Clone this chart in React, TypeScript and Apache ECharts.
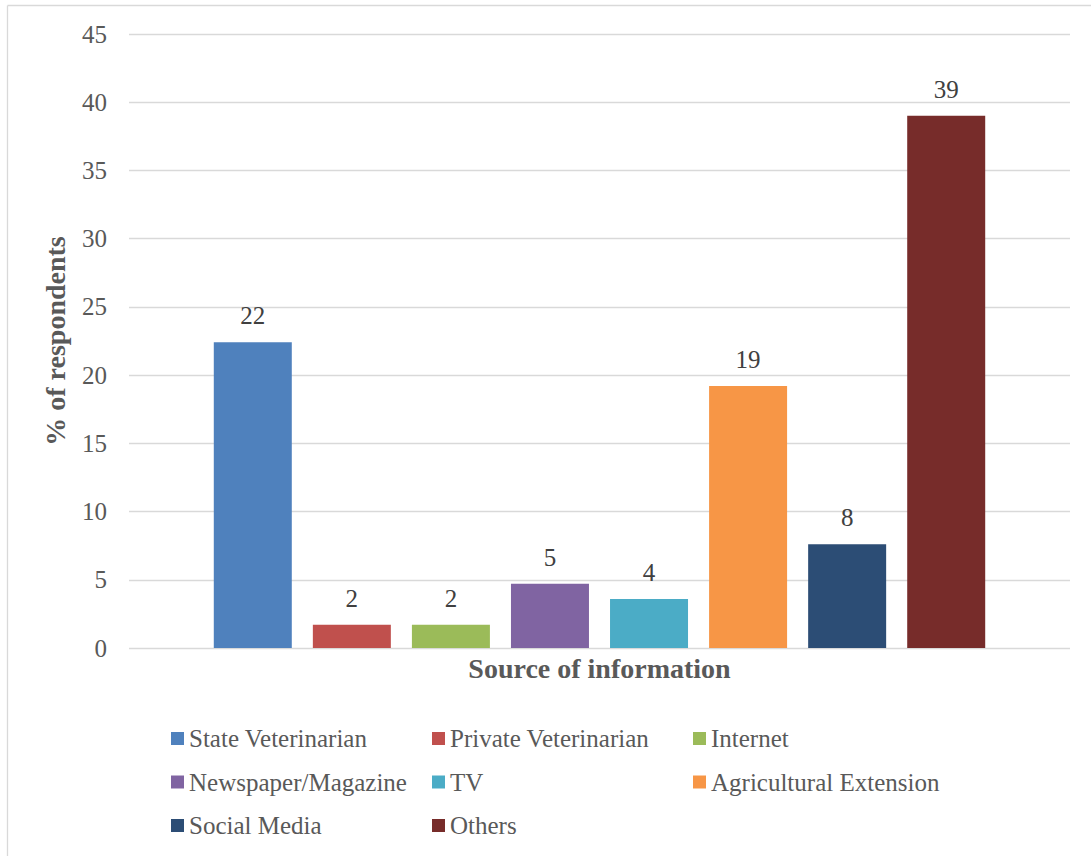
import React, { useEffect, useRef } from "react";
import * as echarts from "echarts";

const categories = [
  "State Veterinarian",
  "Private Veterinarian",
  "Internet",
  "Newspaper/Magazine",
  "TV",
  "Agricultural Extension",
  "Social Media",
  "Others",
];
const values = [22.4, 1.7, 1.7, 4.7, 3.6, 19.2, 7.6, 39.0];
const colors = ["#4F81BD", "#C0504D", "#9BBB59", "#8064A2", "#4BACC6", "#F79646", "#2C4D75", "#772C2A"];
const legendColumns = [
  ["State Veterinarian", "Newspaper/Magazine", "Social Media"],
  ["Private Veterinarian", "TV", "Others"],
  ["Internet", "Agricultural Extension"],
];
const yTitle = "% of respondents";
const xTitle = "Source of information";

const FONT = "'Liberation Serif', 'Times New Roman', serif";

export default function App() {
  const ref = useRef<HTMLDivElement>(null);
  useEffect(() => {
    if (!ref.current) return;
    const chart = echarts.init(ref.current, null, { renderer: "svg" });
    const legendLefts = [171, 432, 693];
    chart.setOption({
      animation: false,
      backgroundColor: "#ffffff",
      textStyle: { fontFamily: FONT },
      grid: { left: 129, right: 21, top: 34, bottom: 208, containLabel: false },
      xAxis: {
        type: "category",
        data: [""],
        axisLine: { show: false },
        axisTick: { show: false },
        axisLabel: { show: false },
        name: xTitle,
        nameLocation: "middle",
        nameGap: 6,
        nameTextStyle: { fontFamily: FONT, fontSize: 28, fontWeight: "bold", color: "#595959", verticalAlign: "top", lineHeight: 28 },
      },
      yAxis: {
        type: "value",
        min: 0,
        max: 45,
        interval: 5,
        axisLine: { show: false },
        axisTick: { show: false },
        axisLabel: { fontFamily: FONT, fontSize: 25, color: "#595959", margin: 22 },
        splitLine: { lineStyle: { color: "#d9d9d9", width: 1.3 } },
        name: yTitle,
        nameLocation: "middle",
        nameRotate: 90,
        nameGap: 60,
        nameTextStyle: { fontFamily: FONT, fontSize: 28, fontWeight: "bold", color: "#595959" },
      },
      legend: legendColumns.map((col, i) => ({
        orient: "vertical",
        left: legendLefts[i],
        top: 726,
        padding: 0,
        itemWidth: 13,
        itemHeight: 13,
        itemGap: 18.5,
        icon: "rect",
        data: col,
        selectedMode: false,
        textStyle: { fontFamily: FONT, fontSize: 25, color: "#595959", lineHeight: 25, padding: [0, 0, 0, 0] },
      })),
      graphic: [
        {
          type: "line",
          shape: { x1: 7.5, y1: 5.5, x2: 1091, y2: 5.5 },
          style: { stroke: "#d9d9d9", lineWidth: 1.3 },
          silent: true,
        },
        {
          type: "line",
          shape: { x1: 7.5, y1: 5.5, x2: 7.5, y2: 856 },
          style: { stroke: "#d9d9d9", lineWidth: 1.3 },
          silent: true,
        },
      ],
      series: categories.map((name, i) => ({
        type: "bar",
        name,
        data: [values[i]],
        barWidth: 78,
        barGap: "27%",
        itemStyle: { color: colors[i] },
        label: {
          show: true,
          position: "top",
          distance: 14,
          fontFamily: FONT,
          fontSize: 25,
          color: "#404040",
          formatter: (p: any) => String(Math.round(p.value)),
        },
      })),
    });
    return () => chart.dispose();
  }, []);
  return (
    <div
      ref={ref}
      style={{ position: "fixed", left: 0, top: 0, width: 1091, height: 856, background: "#fff" }}
    />
  );
}
